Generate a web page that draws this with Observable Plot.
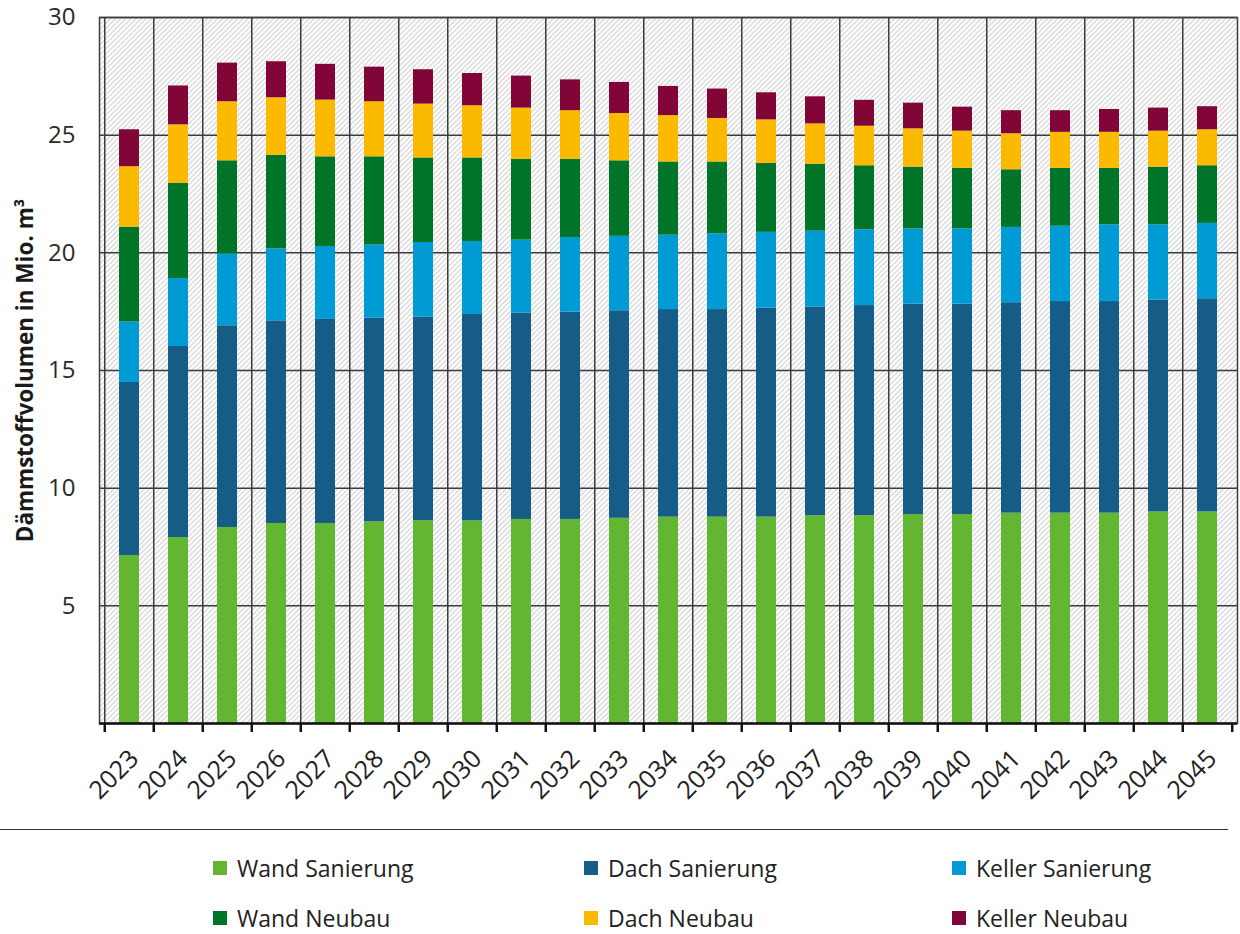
<!DOCTYPE html>
<html><head><meta charset="utf-8">
<script src="https://cdn.jsdelivr.net/npm/d3@7"></script>
<script src="https://cdn.jsdelivr.net/npm/@observablehq/plot@0.6"></script>
<style>
body{margin:0;background:#fff;font-family:"Open Sans",sans-serif;}
#wrap{position:relative;width:1240px;height:934px;overflow:hidden;}
#rule{position:absolute;left:0;top:829px;width:1228px;height:0;border-top:1.5px solid #333;}
.item{position:absolute;display:flex;align-items:center;font-size:23px;color:#222;white-space:nowrap;line-height:1;}
.sw{width:14px;height:14px;margin-right:10px;flex:none;}
</style></head><body>
<div id="wrap"><div id="chart"></div><div id="rule"></div><div id="legend"></div></div>
<script>
const years = [2023,2024,2025,2026,2027,2028,2029,2030,2031,2032,2033,2034,2035,2036,2037,2038,2039,2040,2041,2042,2043,2044,2045];
const wandSanierung   = [7.14,7.90,8.33,8.50,8.50,8.57,8.62,8.61,8.67,8.67,8.72,8.77,8.77,8.77,8.83,8.83,8.88,8.88,8.94,8.94,8.94,8.99,8.99];
const dachSanierung   = [7.35,8.12,8.57,8.61,8.67,8.65,8.65,8.77,8.77,8.81,8.82,8.82,8.82,8.88,8.87,8.93,8.94,8.94,8.94,8.99,8.99,9.00,9.06];
const kellerSanierung = [2.57,2.89,3.05,3.06,3.10,3.11,3.17,3.10,3.10,3.17,3.16,3.16,3.22,3.22,3.22,3.22,3.20,3.20,3.20,3.20,3.26,3.20,3.20];
const wandNeubau      = [4.03,4.04,3.96,3.97,3.81,3.75,3.59,3.55,3.43,3.32,3.21,3.11,3.05,2.93,2.84,2.72,2.62,2.57,2.45,2.46,2.40,2.45,2.45];
const dachNeubau      = [2.57,2.49,2.51,2.45,2.41,2.34,2.29,2.22,2.18,2.07,2.01,1.97,1.85,1.85,1.72,1.68,1.63,1.58,1.53,1.53,1.53,1.53,1.53];
const kellerNeubau    = [1.57,1.65,1.64,1.53,1.52,1.47,1.46,1.37,1.36,1.31,1.32,1.24,1.25,1.15,1.15,1.10,1.09,1.02,0.98,0.92,0.97,0.98,0.98];

const seriesNames  = ["Wand Sanierung","Dach Sanierung","Keller Sanierung","Wand Neubau","Dach Neubau","Keller Neubau"];
const seriesValues = [wandSanierung,dachSanierung,kellerSanierung,wandNeubau,dachNeubau,kellerNeubau];
const seriesColors = ["#62B631","#155D86","#009BD5","#00752A","#FBBA00","#820538"];
const legendOrder  = ["Wand Sanierung","Dach Sanierung","Keller Sanierung","Wand Neubau","Dach Neubau","Keller Neubau"];
const yTicks = [5,10,15,20,25,30];
const yTitle = "Dämmstoffvolumen in Mio. m³";

const data = years.flatMap((yr,i) => seriesNames.map((s,k) => ({year: yr, series: s, value: seriesValues[k][i]})));

const W = 1240, H = 812, ML = 99, MR = 3, MT = 17, MB = H - 723;
const step = (W - ML - MR) / years.length;
const gridColor = "#3c3c3c";

const chart = Plot.plot({
  width: W, height: H,
  marginLeft: ML, marginRight: MR, marginTop: MT, marginBottom: MB,
  style: {fontFamily: "'Open Sans', sans-serif", fontSize: "24px", color: "#2a2a2a", background: "#fff", overflow: "visible"},
  x: {type: "band", domain: years, paddingInner: 0.6, paddingOuter: 0.3, label: null},
  y: {domain: [0, 30], label: null},
  color: {domain: seriesNames, range: seriesColors},
  marks: [
    Plot.frame({fill: "url(#hatch)", stroke: null}),
    Plot.gridY(yTicks, {stroke: gridColor, strokeOpacity: 1, strokeWidth: 1.5}),
    Plot.ruleX(years, {x: d => d, dx: -step / 2, stroke: gridColor, strokeWidth: 1.5}),
    Plot.barY(data, {x: "year", y: "value", fill: "series", order: seriesNames}),
    Plot.frame({stroke: gridColor, strokeWidth: 1.5}),
    Plot.ruleY([0], {stroke: "#111", strokeWidth: 2.5}),
    Plot.axisX({tickSize: 9, tickFormat: () => "", dx: -step / 2, stroke: "#111", strokeWidth: 2.5}),
    Plot.axisX([years[years.length - 1]], {tickSize: 9, tickFormat: () => "", dx: step / 2, stroke: "#111", strokeWidth: 2.5}),
    Plot.axisX({tickSize: 0, tickRotate: -45, tickPadding: 31, dx: 5, tickFormat: d => String(d), fontSize: 25, fill: "#222"}),
    Plot.axisY(yTicks, {tickSize: 0, tickPadding: 24, fontSize: 24, fill: "#2a2a2a"}),
    Plot.text([yTitle], {frameAnchor: "left", textAnchor: "middle", dx: -74, rotate: -90, fontWeight: "bold", fontSize: 22.5, fill: "#1a1a1a"})
  ]
});

const defs = d3.select(chart).insert("defs", ":first-child");
const pat = defs.append("pattern").attr("id", "hatch").attr("patternUnits", "userSpaceOnUse")
  .attr("width", 3.6).attr("height", 3.6).attr("patternTransform", "rotate(45)");
pat.append("rect").attr("width", 3.6).attr("height", 3.6).attr("fill", "#ffffff");
pat.append("rect").attr("width", 1.3).attr("height", 3.6).attr("fill", "#d6d6d6");

document.getElementById("chart").appendChild(chart);

const legend = document.getElementById("legend");
const colX = [213, 584, 952];
const rowY = [868, 918];
legendOrder.forEach((name, i) => {
  const k = seriesNames.indexOf(name);
  const el = document.createElement("div");
  el.className = "item";
  el.style.left = colX[i % 3] + "px";
  el.style.top = (rowY[Math.floor(i / 3)] - 12) + "px";
  el.style.height = "24px";
  el.innerHTML = `<span class="sw" style="background:${seriesColors[k]}"></span><span>${name}</span>`;
  legend.appendChild(el);
});
</script>
</body></html>
